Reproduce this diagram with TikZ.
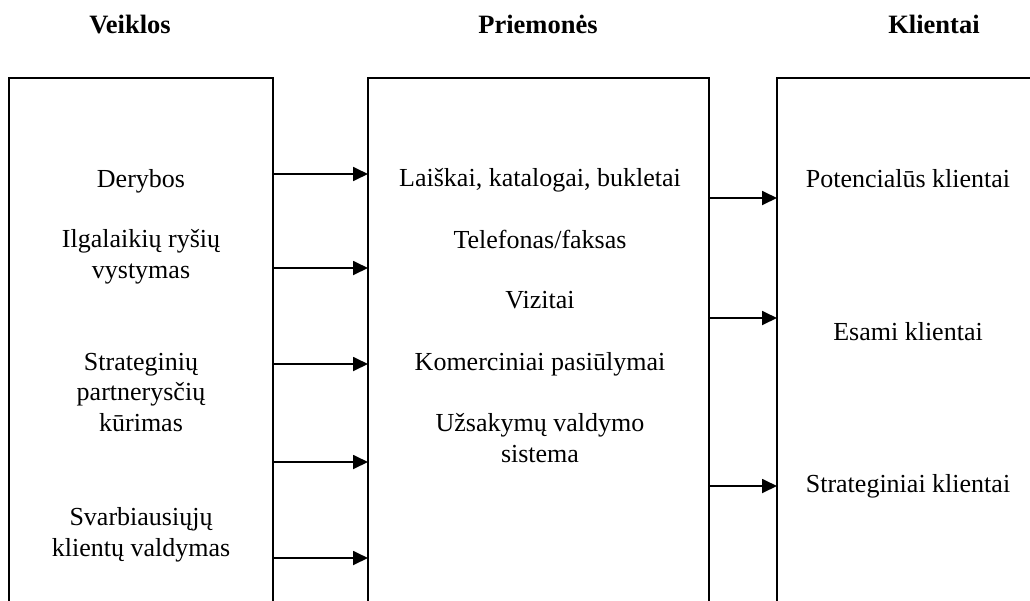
\documentclass[tikz,border=0pt]{standalone}
\usepackage{fontspec}
\setmainfont{Liberation Serif}
\usetikzlibrary{arrows.meta}
\tikzset{
  panel/.style={draw, line width=1.8pt, inner sep=0pt, outer sep=0pt},
  label/.style={anchor=base, align=center, inner sep=0pt},
  head/.style={anchor=base, inner sep=0pt, font=\bfseries\fontsize{26.5}{31}\selectfont},
  feed/.style={line width=1.8pt, -{Triangle[length=15pt,width=14pt]}}
}
\begin{document}
\begin{tikzpicture}[x=1pt,y=-1pt,font=\fontsize{26}{30.5}\selectfont]
\useasboundingbox (0,0) rectangle (1030,600);
\clip (0,0) rectangle (1030,600);

% column headings
\node[head] (hA) at (130,33) {Veiklos};
\node[head] (hB) at (538,33) {Priemonės};
\node[head] (hC) at (934,33) {Klientai};

% three panels, running past the lower (and right) edge
\node[panel, minimum width=264pt, minimum height=600pt] (act) at (141,378) {};
\node[panel, minimum width=341pt, minimum height=600pt] (tool) at (538.5,378) {};
\node[panel, minimum width=300pt, minimum height=600pt] (cli) at (927,378) {};

% activities (a multi-line label sits on the baseline of its last line)
\node[label] (a1) at (141,187) {Derybos};
\node[label] (a2) at (141,278) {Ilgalaikių ryšių\\vystymas};
\node[label] (a3) at (141,431) {Strateginių\\partnerysčių\\kūrimas};
\node[label] (a4) at (141,556) {Svarbiausiųjų\\klientų valdymas};

% means
\node[label] (m1) at (540,186) {Laiškai, katalogai, bukletai};
\node[label] (m2) at (540,248) {Telefonas/faksas};
\node[label] (m3) at (540,308) {Vizitai};
\node[label] (m4) at (540,370) {Komerciniai pasiūlymai};
\node[label] (m5) at (540,462) {Užsakymų valdymo\\sistema};

% clients
\node[label] (c1) at (908,187) {Potencialūs klientai};
\node[label] (c2) at (908,340) {Esami klientai};
\node[label] (c3) at (908,492) {Strateginiai klientai};

% arrow levels
\coordinate (l1) at (0,174);
\coordinate (l2) at (0,268);
\coordinate (l3) at (0,364);
\coordinate (l4) at (0,462);
\coordinate (l5) at (0,558);
\coordinate (r1) at (0,198);
\coordinate (r2) at (0,318);
\coordinate (r3) at (0,486);

\foreach \l in {l1,l2,l3,l4,l5}
  \draw[feed] (act.east |- \l) -- (tool.west |- \l);
\foreach \r in {r1,r2,r3}
  \draw[feed] (tool.east |- \r) -- (cli.west |- \r);
\end{tikzpicture}
\end{document}
